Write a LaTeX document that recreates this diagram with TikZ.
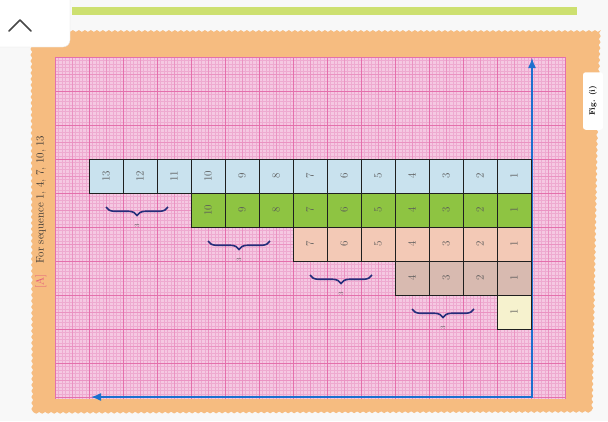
\documentclass[tikz,border=0pt]{standalone}
\usepackage{graphicx}
\usepackage{tikz}
\usetikzlibrary{
  arrows.meta,
  decorations.pathreplacing,
  decorations.pathmorphing
}
\definecolor{pageBg}{RGB}{248,248,248}
\definecolor{stripGreen}{RGB}{205,224,112}
\definecolor{paperOrange}{RGB}{246,188,128}
\definecolor{gridPink}{RGB}{245,200,226}
\definecolor{minorPink}{RGB}{238,170,208}
\definecolor{majorPink}{RGB}{228,112,172}
\definecolor{cellBlue}{RGB}{201,226,238}
\definecolor{cellGreen}{RGB}{142,196,66}
\definecolor{cellPeach}{RGB}{243,201,182}
\definecolor{cellMauve}{RGB}{216,186,176}
\definecolor{cellCream}{RGB}{246,242,206}
\definecolor{axisBlue}{RGB}{28,112,206}
\definecolor{braceNavy}{RGB}{36,46,122}
\definecolor{labelRed}{RGB}{226,84,124}
\colorlet{ink}{black!80}
\tikzset{
  cell/.style={
    draw=black!88,
    line width=1.1pt,
    minimum size=13.6mm,
    inner sep=0pt,
    text=black!65,
    font=\fontsize{12.5}{14}\selectfont
  },
  grouping/.style={
    decorate,
    decoration={brace, mirror, amplitude=3.4mm},
    draw=braceNavy,
    line width=1.8pt
  },
  count label/.style={
    midway,
    yshift=-7.4mm,
    rotate=90,
    inner sep=0pt,
    text=black!65,
    font=\fontsize{7.5}{8}\selectfont
  },
  axis/.style={
    {Latex[length=4mm,width=3.2mm]}-{Latex[length=4mm,width=3.2mm]},
    draw=axisBlue,
    line width=1.6pt
  },
  minorLine/.style={draw=minorPink, line width=0.12pt},
  midLine/.style={draw=minorPink!60!majorPink, line width=0.3pt},
  majorLine/.style={draw=majorPink, line width=0.5pt},
  caption/.style={rotate=90, text=ink, font=\fontsize{12.5}{14}\selectfont},
  figtab/.style={
    rotate=90,
    fill=white,
    rounded corners=3pt,
    minimum width=23mm,
    minimum height=8mm,
    inner sep=1pt,
    font=\bfseries\fontsize{9}{10}\selectfont
  }
}

\begin{document}
\begin{tikzpicture}[x=0.4mm,y=-0.4mm]
  \useasboundingbox (0,0) rectangle (608,421);
  \fill[pageBg] (0,0) rectangle (608,421);

  % paper
  \fill[stripGreen] (72,7) rectangle (577,15);
  \fill[paperOrange, decorate, decoration={snake, amplitude=0.35mm, segment length=2.4mm}]
    (29,31) -- (598,31) -- (595,140) -- (590,412) -- (30,413) -- cycle;

  % graph paper
  \fill[gridPink] (55,57) rectangle (565,399);
  \foreach \i in {0,...,150}{
    \draw[minorLine] ({55+3.4*\i},57) -- ({55+3.4*\i},399);
  }
  \foreach \j in {0,...,100}{
    \draw[minorLine] (55,{57+3.4*\j}) -- (565,{57+3.4*\j});
  }
  \foreach \i in {0,...,30}{
    \draw[midLine] ({55+17*\i},57) -- ({55+17*\i},399);
  }
  \foreach \j in {0,...,20}{
    \draw[midLine] (55,{57+17*\j}) -- (565,{57+17*\j});
  }
  \foreach \i in {0,...,15}{
    \draw[majorLine] ({55+34*\i},57) -- ({55+34*\i},399);
  }
  \foreach \j in {0,...,10}{
    \draw[majorLine] (55,{57+34*\j}) -- (565,{57+34*\j});
  }

  % axes
  \coordinate (origin) at (532,397);
  \coordinate (xtip) at (91,397);
  \coordinate (ytip) at (532,58);
  \draw[axis] (xtip) -- (origin) -- (ytip);

  % rows of squares
  \foreach \row/\cnt/\tint in {0/13/cellBlue,1/10/cellGreen,2/7/cellPeach,3/4/cellMauve,4/1/cellCream}{
    \foreach \k in {1,...,\cnt}{
      \node[cell, fill=\tint] (c\row-\k) at ({514-34*(\k-1)},{176+34*\row}) {\rotatebox{90}{\k}};
    }
  }

  % groups of three
  \foreach \row/\cnt in {0/13,1/10,2/7,3/4}{
    \pgfmathtruncatemacro{\last}{\cnt-2}
    \draw[grouping] ([yshift=-12.4mm]c\row-\cnt.center) -- node[count label] (g\row) {3} ([xshift=-2.4mm,yshift=-12.4mm]c\row-\last.center);
  }

  \node[caption] (caption) at (41,212) {{\color{labelRed}[A]}\quad For sequence 1, 4, 7, 10, 13};
  \node[figtab] (fig) at (593,101) {Fig. (i)};

  % back tab
  \fill[white, draw=black!10, rounded corners=8pt] (-10,-10) rectangle (70,47);
  \draw[black!72, line width=2pt, line cap=round, line join=round] (9,31) -- (20,20) -- (31,31);
\end{tikzpicture}
\end{document}
